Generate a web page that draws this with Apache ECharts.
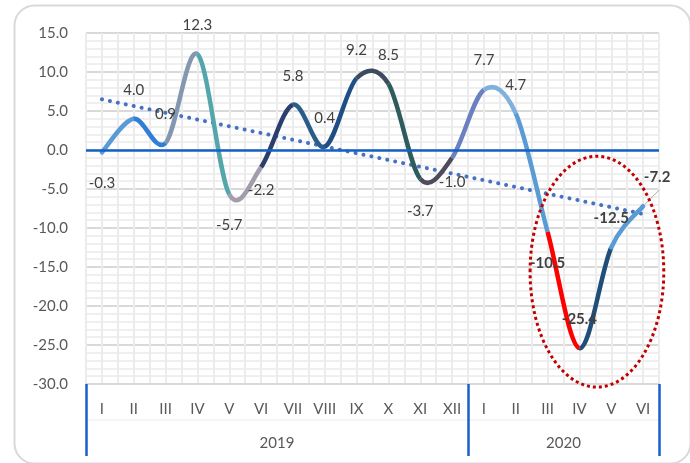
<!DOCTYPE html>
<html>
<head>
<meta charset="utf-8">
<script src="https://cdn.jsdelivr.net/npm/echarts@6/dist/echarts.min.js"></script>
<style>
  html, body { margin: 0; padding: 0; background: #fff; }
  #chart { width: 690px; height: 463px; }
</style>
</head>
<body>
<div id="chart"></div>
<script>
// 月份（罗马数字）
const months2019 = ['I', 'II', 'III', 'IV', 'V', 'VI', 'VII', 'VIII', 'IX', 'X', 'XI', 'XII']
const months2020 = ['I', 'II', 'III', 'IV', 'V', 'VI']
const years = ['2019', '2020']

// 数值
const values2019 = [-0.3, 4.0, 0.9, 12.3, -5.7, -2.2, 5.8, 0.4, 9.2, 8.5, -3.7, -1.0]
const values2020 = [7.7, 4.7, -10.5, -25.4, -12.5, -7.2]

// 趋势线两端
const trendStart = 6.5
const trendEnd = -8.2

// y 轴
const yMin = -30
const yMax = 15
const yStep = 5

// 每段曲线颜色
const segColors = [
  '#5b9bd5', '#2f7fd6', '#8497b0', '#54a6ad', '#a39cad', '#2c3e6e',
  '#2a5d8c', '#1f4e85', '#3d4b5f', '#2e5c5c', '#4f4a5c', '#6b80c0',
  '#7fb1dc', '#5b9bd5', '#ff0000', '#1f4e79', '#5b9bd5'
]

// 标签位置 [position, distance, dx]
const labelPlace = [
  ['bottom', 23, 0], ['top', 21, 0], ['top', 21, 0], ['top', 21, 0],
  ['bottom', 23, 0], ['bottom', 15, 0], ['top', 21, 0], ['top', 21, 0],
  ['top', 20, 0], ['top', 21, 0], ['bottom', 24, 0], ['bottom', 16, 0],
  ['top', 22, 0], ['top', 20, 0], ['bottom', 23, 0], ['top', 21, 0],
  ['top', 21, 0], ['top', 21, 14]
]
const boldFrom = 14

// 红色椭圆标注（坐标轴单位）
const ellipseCenter = [16.05, -15.6]
const ellipseRadius = [2.1, 14.8]

const categories = months2019.concat(months2020)
const values = values2019.concat(values2020)
const n = categories.length
const yearBounds = [0, months2019.length, n]

const trendData = values.map((v, i) => (i === 0 ? trendStart : i === n - 1 ? trendEnd : null))

const font = 'Lato, "Open Sans", sans-serif'

const lineData = values.map((v, i) => {
  const [pos, dist, dx] = labelPlace[i]
  return {
    value: v,
    label: {
      position: pos,
      distance: dist,
      offset: [dx, 0],
      fontWeight: i >= boldFrom ? 'bold' : 'normal'
    }
  }
})

// 每段一条曲线：[起点索引, 起点值]
const segData = segColors.map((c, i) => [i, values[i]])

// Excel 风格平滑（Catmull-Rom, 1/6）
function renderSegment(params, api) {
  const i = api.value(0)
  const pt = k => {
    const j = Math.max(0, Math.min(n - 1, k))
    return api.coord([j, values[j]])
  }
  const p0 = pt(i - 1)
  const p1 = pt(i)
  const p2 = pt(i + 1)
  const p3 = pt(i + 2)
  return {
    type: 'bezierCurve',
    shape: {
      x1: p1[0], y1: p1[1],
      x2: p2[0], y2: p2[1],
      cpx1: p1[0] + (p2[0] - p0[0]) / 6,
      cpy1: p1[1] + (p2[1] - p0[1]) / 6,
      cpx2: p2[0] - (p3[0] - p1[0]) / 6,
      cpy2: p2[1] - (p3[1] - p1[1]) / 6
    },
    style: {
      fill: null,
      stroke: segColors[i],
      lineWidth: 4.5,
      lineCap: i === 0 || i === segColors.length - 1 ? 'round' : 'butt'
    }
  }
}

const chart = echarts.init(document.getElementById('chart'))

chart.setOption({
  animation: false,
  backgroundColor: '#fff',
  textStyle: { fontFamily: font },
  grid: { left: 86, right: 31, top: 33, bottom: 79 },
  xAxis: [
    {
      type: 'category',
      data: categories,
      position: 'bottom',
      boundaryGap: true,
      axisLine: { onZero: false, lineStyle: { color: '#d9d9d9', width: 2 } },
      axisTick: { show: false },
      axisLabel: { margin: 18, color: '#595959', fontSize: 15, fontFamily: font, interval: 0 },
      splitLine: { show: false }
    },
    {
      // 竖向网格
      type: 'value',
      min: 0,
      max: n,
      interval: 0.5,
      position: 'bottom',
      axisLine: { show: false, onZero: false },
      axisTick: { show: false },
      axisLabel: { show: false },
      splitLine: { show: true, lineStyle: { color: '#ececec', width: 2 } }
    },
    {
      // 年份
      type: 'value',
      min: 0,
      max: n,
      position: 'bottom',
      axisLine: { show: false, onZero: false },
      axisTick: {
        show: true,
        customValues: yearBounds,
        length: 72,
        lineStyle: { color: '#1a5fcc', width: 2.5 }
      },
      axisLabel: {
        show: true,
        customValues: [(yearBounds[0] + yearBounds[1]) / 2, (yearBounds[1] + yearBounds[2]) / 2],
        formatter: v => (v < yearBounds[1] ? years[0] : years[1]),
        margin: 52,
        color: '#595959',
        fontSize: 15,
        fontFamily: font
      },
      splitLine: { show: false }
    }
  ],
  yAxis: {
    type: 'value',
    min: yMin,
    max: yMax,
    interval: yStep,
    axisLine: { show: false, onZero: false },
    axisTick: { show: false },
    axisLabel: {
      margin: 18,
      color: '#595959',
      fontSize: 15,
      fontFamily: font,
      formatter: v => v.toFixed(1)
    },
    splitLine: { lineStyle: { color: '#d9d9d9', width: 2 } },
    minorTick: { show: false, splitNumber: 5 },
    minorSplitLine: { show: true, lineStyle: { color: '#efefef', width: 2 } }
  },
  series: [
    {
      name: 'curve',
      type: 'custom',
      xAxisIndex: 0,
      yAxisIndex: 0,
      data: segData,
      renderItem: renderSegment,
      z: 4,
      silent: true
    },
    {
      // 只用来放数据标签
      name: 'labels',
      type: 'line',
      xAxisIndex: 0,
      data: lineData,
      symbol: 'circle',
      symbolSize: 1,
      showSymbol: true,
      itemStyle: { color: 'rgba(0,0,0,0)' },
      lineStyle: { opacity: 0 },
      z: 5,
      label: {
        show: true,
        color: '#404040',
        fontSize: 15,
        fontFamily: font,
        formatter: p => p.value.toFixed(1)
      }
    },
    {
      name: 'trend',
      type: 'line',
      xAxisIndex: 0,
      data: trendData,
      connectNulls: true,
      symbol: 'none',
      z: 3,
      lineStyle: { color: '#4472c4', width: 4, type: [0.1, 8], cap: 'round' },
      markLine: {
        silent: true,
        symbol: 'none',
        label: { show: false },
        lineStyle: { color: '#1560c4', width: 2.5, type: 'solid' },
        data: [{ yAxis: 0 }]
      }
    }
  ]
})

// 外框、椭圆、引导线
const c = chart.convertToPixel({ xAxisIndex: 1, yAxisIndex: 0 }, ellipseCenter)
const e = chart.convertToPixel({ xAxisIndex: 1, yAxisIndex: 0 },
  [ellipseCenter[0] + ellipseRadius[0], ellipseCenter[1] - ellipseRadius[1]])
const last = chart.convertToPixel({ xAxisIndex: 0, yAxisIndex: 0 }, [n - 1, values[n - 1]])
const gl = chart.convertToPixel({ xAxisIndex: 1, yAxisIndex: 0 }, [0, yMin])
const gr = chart.convertToPixel({ xAxisIndex: 1, yAxisIndex: 0 }, [n, yMin])

chart.setOption({
  graphic: [
    {
      type: 'rect',
      left: 12,
      top: 3,
      shape: { width: 676, height: 458, r: 20 },
      style: { fill: 'none', stroke: '#d9d9d9', lineWidth: 2 },
      silent: true,
      z: 0
    },
    {
      type: 'line',
      shape: { x1: gl[0], y1: gl[1] + 36, x2: gr[0], y2: gr[1] + 36 },
      style: { stroke: '#ececec', lineWidth: 1 },
      silent: true,
      z: 0
    },
    {
      type: 'line',
      shape: { x1: last[0] + 2, y1: last[1] - 2, x2: last[0] + 16, y2: last[1] - 16 },
      style: { stroke: '#a6a6a6', lineWidth: 1 },
      silent: true,
      z: 3
    },
    {
      type: 'ellipse',
      shape: { cx: c[0], cy: c[1], rx: e[0] - c[0], ry: e[1] - c[1] },
      style: { fill: 'none', stroke: '#c00000', lineWidth: 3, lineDash: [3, 3] },
      silent: true,
      z: 10
    }
  ]
})
</script>
</body>
</html>
